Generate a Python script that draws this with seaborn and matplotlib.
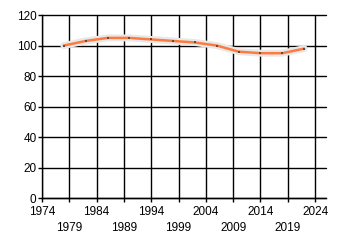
import matplotlib
matplotlib.use("Agg")
import matplotlib.pyplot as plt
import matplotlib.patheffects as pe
import seaborn as sns
import pandas as pd

years = [1978, 1982, 1986, 1990, 1994, 1998, 2002, 2006, 2010, 2014, 2018, 2022]
values = [100, 103, 105, 105, 104, 103, 102, 100, 96, 95, 95, 98]
xticks = [1974, 1979, 1984, 1989, 1994, 1999, 2004, 2009, 2014, 2019, 2024]
yticks = [0, 20, 40, 60, 80, 100, 120]

sns.set_theme(style="white")
plt.rcParams['font.family'] = ['Liberation Sans', 'DejaVu Sans']

fig = plt.figure(figsize=(3.4, 2.45), dpi=100)
ax = fig.add_axes([42/340, 1-198.3/245, (326-42)/340, (198.3-15)/245])

df = pd.DataFrame({"year": years, "value": values})
sns.lineplot(data=df, x="year", y="value", ax=ax, color="#ff7a3d", linewidth=1.8,
             path_effects=[pe.Stroke(linewidth=5, foreground="#e8e8e8"), pe.Normal()],
             zorder=5)
sns.scatterplot(data=df, x="year", y="value", ax=ax, color="#505050", marker="s",
                s=3, linewidth=0, zorder=6)

ax.set_xlim(1974, 2026)
ax.set_ylim(0, 120)
ax.set_xticks(xticks)
ax.set_xticklabels([str(t) if i % 2 == 0 else "\n" + str(t) for i, t in enumerate(xticks)])
ax.set_yticks(yticks)
ax.set_yticklabels([str(t) for t in yticks])
ax.grid(True, color="black", linewidth=1.0)
ax.set_axisbelow(True)
for s in ["top", "right"]:
    ax.spines[s].set_visible(False)
for s in ["left", "bottom"]:
    ax.spines[s].set_color("black")
    ax.spines[s].set_linewidth(1.0)
ax.tick_params(axis="both", which="both", direction="out", length=3, width=1, color="black",
               labelsize=8.5, labelcolor="black", pad=1, bottom=True, left=True)
ax.tick_params(axis="x", pad=2.5)
for gl in ax.get_ygridlines():
    gl.set_clip_on(False)
ax.set_xlabel("")
ax.set_ylabel("")
for t in ax.get_xticklabels():
    t.set_linespacing(1.45)

fig.savefig("out.png", dpi=100)
